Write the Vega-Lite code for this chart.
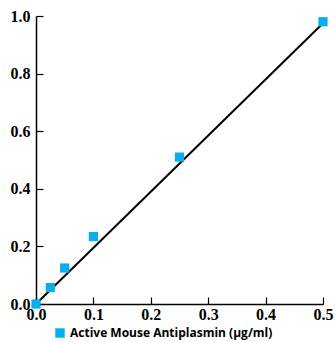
{
  "$schema": "https://vega.github.io/schema/vega-lite/v6.json",
  "width": 287,
  "height": 288,
  "autosize": {"type": "none"},
  "padding": {"left": 36, "top": 16, "right": 13, "bottom": 38},
  "background": "white",
  "config": {"view": {"stroke": null}},
  "layer": [
    {
      "data": {"values": [{"x": 0, "y": 0}, {"x": 0.5, "y": 0.975}]},
      "mark": {"type": "line", "color": "black", "strokeWidth": 2},
      "encoding": {
        "x": {"field": "x", "type": "quantitative"},
        "y": {"field": "y", "type": "quantitative"}
      }
    },
    {
      "data": {"values": [
        {"x": 0, "y": 0, "series": "Active Mouse Antiplasmin (µg/ml)"},
        {"x": 0.025, "y": 0.057, "series": "Active Mouse Antiplasmin (µg/ml)"},
        {"x": 0.05, "y": 0.125, "series": "Active Mouse Antiplasmin (µg/ml)"},
        {"x": 0.1, "y": 0.234, "series": "Active Mouse Antiplasmin (µg/ml)"},
        {"x": 0.25, "y": 0.51, "series": "Active Mouse Antiplasmin (µg/ml)"},
        {"x": 0.5, "y": 0.98, "series": "Active Mouse Antiplasmin (µg/ml)"}
      ]},
      "mark": {"type": "square", "size": 85, "opacity": 1, "filled": true},
      "encoding": {
        "x": {
          "field": "x", "type": "quantitative",
          "scale": {"domain": [0, 0.5], "nice": false, "zero": true},
          "axis": {
            "title": null, "values": [0, 0.1, 0.2, 0.3, 0.4, 0.5], "format": ".1f",
            "grid": false, "domainColor": "black", "domainWidth": 1.5,
            "tickColor": "black", "tickSize": -7, "tickWidth": 1.2,
            "labelFont": "Liberation Serif", "labelFontWeight": "bold", "labelFontSize": 16,
            "labelColor": "black", "labelPadding": 9, "labelFlush": false
          }
        },
        "y": {
          "field": "y", "type": "quantitative",
          "scale": {"domain": [0, 1], "nice": false},
          "axis": {
            "title": null, "values": [0, 0.2, 0.4, 0.6, 0.8, 1.0], "format": ".1f",
            "grid": false, "domainColor": "black", "domainWidth": 1.5,
            "tickColor": "black", "tickSize": -7, "tickWidth": 1.2,
            "labelFont": "Liberation Serif", "labelFontWeight": "bold", "labelFontSize": 16,
            "labelColor": "black", "labelPadding": 13
          }
        },
        "color": {
          "field": "series", "type": "nominal",
          "scale": {"range": ["#0aaeec"]},
          "legend": {
            "title": null, "orient": "none", "legendX": 18, "legendY": 311, "padding": 0,
            "symbolType": "square", "symbolSize": 90, "symbolOpacity": 1,
            "labelFont": "Open Sans", "labelFontWeight": "bold", "labelFontSize": 12,
            "labelColor": "black", "labelOffset": 4, "labelLimit": 300
          }
        }
      }
    }
  ]
}
